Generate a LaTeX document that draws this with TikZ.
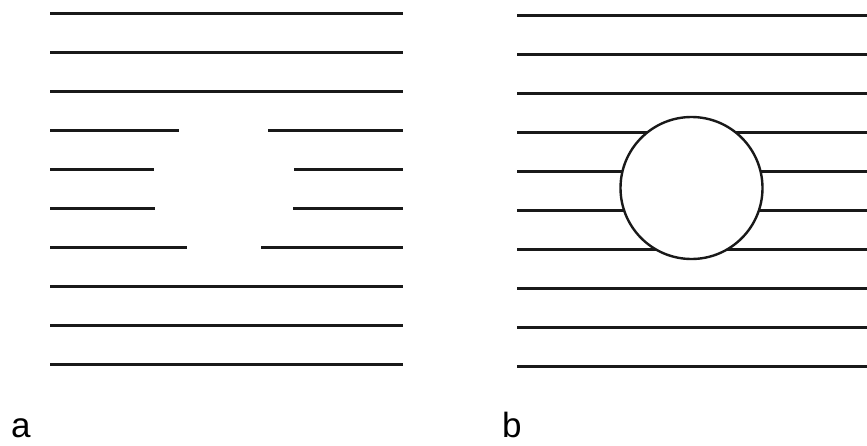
\documentclass[tikz,border=0pt]{standalone}
\usepackage{fontspec}
\setmainfont{Liberation Sans}
\usetikzlibrary{positioning}

\begin{document}
\begin{tikzpicture}[
  x=1pt, y=-1pt,
  strand/.style={line width=3pt, draw=black!90},
  hole/.style={circle, draw=black!90, line width=2.4pt, fill=white, minimum size=142pt, inner sep=0pt},
  tag/.style={font=\fontsize{35}{38}\selectfont, anchor=base west, inner sep=0pt}
]
\useasboundingbox (0,0) rectangle (867,445);

% panel a: full rows
\foreach \k in {0,1,2,7,8,9}
  \draw[strand] (50,13+39*\k) -- (403,13+39*\k);
% panel a: broken rows
\foreach \k/\l/\r in {3/179/268, 4/154/294, 5/155/293, 6/187/261} {
  \draw[strand] (50,13+39*\k) -- (\l,13+39*\k);
  \draw[strand] (\r,13+39*\k) -- (403,13+39*\k);
}

% panel b
\foreach \k in {0,...,9}
  \draw[strand] (517,15+39.1*\k) -- (867,15+39.1*\k);
\node[hole] (bubble) at (691.5,188) {};

\node[tag] (taga) at (11,437) {a};
\node[tag] (tagb) at (502,437) {b};
\end{tikzpicture}
\end{document}
